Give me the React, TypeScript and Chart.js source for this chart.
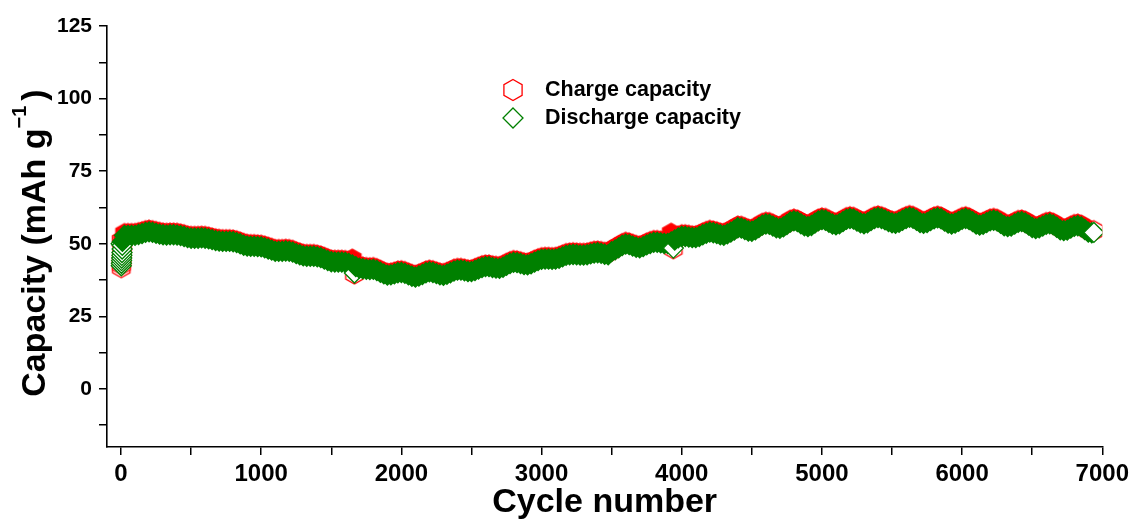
import React, { useEffect, useRef } from 'react';
import { Chart, registerables } from 'chart.js';

Chart.register(...registerables);

// Cycle numbers at which capacities were sampled
const cycleNumbers = [
  1, 2, 3, 4, 5, 6, 7, 8, 9, 10,
  25, 50, 75, 100, 125, 150, 175,
  200, 225, 250, 275, 300, 325, 350, 375,
  400, 425, 450, 475, 500, 525, 550, 575,
  600, 625, 650, 675, 700, 725, 750, 775,
  800, 825, 850, 875, 900, 925, 950, 975,
  1000, 1025, 1050, 1075, 1100, 1125, 1150, 1175,
  1200, 1225, 1250, 1275, 1300, 1325, 1350, 1375,
  1400, 1425, 1450, 1475, 1500, 1525, 1550, 1575,
  1600, 1625, 1650, 1665, 1675, 1700, 1725, 1750, 1775,
  1800, 1825, 1850, 1875, 1900, 1925, 1950, 1975,
  2000, 2025, 2050, 2075, 2100, 2125, 2150, 2175,
  2200, 2225, 2250, 2275, 2300, 2325, 2350, 2375,
  2400, 2425, 2450, 2475, 2500, 2525, 2550, 2575,
  2600, 2625, 2650, 2675, 2700, 2725, 2750, 2775,
  2800, 2825, 2850, 2875, 2900, 2925, 2950, 2975,
  3000, 3025, 3050, 3075, 3100, 3125, 3150, 3175,
  3200, 3225, 3250, 3275, 3300, 3325, 3350, 3375,
  3400, 3425, 3450, 3475, 3500, 3525, 3550, 3575,
  3600, 3625, 3650, 3675, 3700, 3725, 3750, 3775,
  3800, 3825, 3850, 3875, 3900, 3925, 3940, 3950, 3975,
  4000, 4025, 4050, 4075, 4100, 4125, 4150, 4175,
  4200, 4225, 4250, 4275, 4300, 4325, 4350, 4375,
  4400, 4425, 4450, 4475, 4500, 4525, 4550, 4575,
  4600, 4625, 4650, 4675, 4700, 4725, 4750, 4775,
  4800, 4825, 4850, 4875, 4900, 4925, 4950, 4975,
  5000, 5025, 5050, 5075, 5100, 5125, 5150, 5175,
  5200, 5225, 5250, 5275, 5300, 5325, 5350, 5375,
  5400, 5425, 5450, 5475, 5500, 5525, 5550, 5575,
  5600, 5625, 5650, 5675, 5700, 5725, 5750, 5775,
  5800, 5825, 5850, 5875, 5900, 5925, 5950, 5975,
  6000, 6025, 6050, 6075, 6100, 6125, 6150, 6175,
  6200, 6225, 6250, 6275, 6300, 6325, 6350, 6375,
  6400, 6425, 6450, 6475, 6500, 6525, 6550, 6575,
  6600, 6625, 6650, 6675, 6700, 6725, 6750, 6775,
  6800, 6825, 6850, 6875, 6900, 6925, 6940,
];

// Charge capacity (mAh g-1)
const chargeCapacity = [
  51.0, 41.8, 42.8, 43.8, 44.8, 45.8, 46.8, 48.0, 49.5, 51.0,
  53.5, 53.5, 53.5, 53.5, 53.8, 54.1, 54.5,
  54.7, 54.5, 54.2, 53.9, 53.7, 53.6, 53.7, 53.7,
  53.6, 53.4, 53.1, 52.7, 52.5, 52.5, 52.5, 52.6,
  52.5, 52.3, 52.0, 51.7, 51.5, 51.4, 51.4, 51.4,
  51.3, 51.0, 50.6, 50.1, 49.8, 49.7, 49.7, 49.6,
  49.5, 49.2, 48.8, 48.4, 48.0, 48.0, 48.0, 48.1,
  48.0, 47.7, 47.2, 46.8, 46.4, 46.3, 46.3, 46.3,
  46.1, 45.8, 45.3, 44.8, 44.4, 44.3, 44.3, 44.3,
  44.2, 43.8, 44.7, 39.6, 42.7, 42.2, 42.0, 41.8, 41.7,
  41.8, 41.4, 40.8, 40.2, 39.8, 39.9, 40.2, 40.6,
  40.7, 40.4, 39.9, 39.4, 39.1, 39.5, 40.0, 40.6,
  40.9, 40.7, 40.3, 39.9, 39.7, 40.1, 40.6, 41.2,
  41.5, 41.5, 41.3, 41.0, 41.0, 41.4, 41.9, 42.4,
  42.7, 42.7, 42.4, 42.2, 42.1, 42.5, 43.2, 43.8,
  44.2, 44.1, 43.8, 43.4, 43.3, 43.7, 44.3, 44.8,
  45.2, 45.3, 45.3, 45.2, 45.3, 45.6, 46.1, 46.6,
  46.8, 46.9, 46.8, 46.7, 46.7, 46.8, 47.1, 47.4,
  47.5, 47.3, 47.0, 46.8, 47.9, 48.5, 49.2, 50.0,
  50.5, 50.3, 49.8, 49.4, 49.2, 49.6, 50.2, 50.7,
  51.1, 51.1, 50.9, 50.7, 50.7, 53.6, 48.3, 51.9, 52.6,
  53.1, 53.1, 52.9, 52.7, 52.7, 53.1, 53.7, 54.2,
  54.6, 54.4, 54.1, 53.7, 53.5, 54.0, 54.6, 55.3,
  56.1, 56.0, 55.5, 55.0, 54.9, 55.4, 56.2, 57.0,
  57.4, 57.3, 56.7, 56.1, 55.9, 56.4, 57.2, 58.1,
  58.5, 58.2, 57.5, 56.8, 56.5, 56.9, 57.7, 58.5,
  58.9, 58.7, 58.0, 57.4, 57.1, 57.5, 58.2, 59.0,
  59.3, 59.1, 58.4, 57.8, 57.5, 57.8, 58.6, 59.3,
  59.6, 59.3, 58.8, 58.2, 57.8, 57.6, 58.0, 58.7,
  59.3, 59.7, 59.4, 58.7, 57.9, 57.6, 57.9, 58.6,
  59.2, 59.5, 59.2, 58.4, 57.7, 57.4, 57.7, 58.3,
  59.0, 59.3, 58.9, 58.2, 57.4, 57.0, 57.3, 57.9,
  58.5, 58.7, 58.4, 57.6, 56.8, 56.5, 56.7, 57.4,
  58.0, 58.2, 57.8, 57.0, 56.2, 55.8, 56.1, 56.7,
  57.3, 57.5, 57.1, 56.3, 55.4, 55.1, 55.3, 56.0,
  56.6, 56.8, 56.4, 55.5, 54.6, 54.4, 54.5,
];

// Discharge capacity (mAh g-1)
const dischargeCapacity = [
  50.0, 42.4, 43.3, 44.2, 45.1, 46.0, 47.0, 48.2, 49.5, 50.8,
  52.9, 52.9, 52.9, 52.9, 53.2, 53.5, 53.9,
  54.1, 53.9, 53.6, 53.3, 53.1, 53.0, 53.1, 53.1,
  53.0, 52.8, 52.5, 52.1, 51.9, 51.9, 51.9, 52.0,
  51.9, 51.7, 51.4, 51.1, 50.9, 50.8, 50.8, 50.8,
  50.7, 50.4, 50.0, 49.5, 49.2, 49.1, 49.1, 49.0,
  48.9, 48.6, 48.2, 47.8, 47.4, 47.4, 47.4, 47.5,
  47.4, 47.1, 46.6, 46.2, 45.8, 45.7, 45.7, 45.7,
  45.5, 45.2, 44.7, 44.2, 43.8, 43.7, 43.7, 43.7,
  43.6, 43.2, 42.7, 39.9, 42.1, 41.6, 41.4, 41.2, 41.1,
  41.2, 40.8, 40.2, 39.6, 39.2, 39.3, 39.6, 40.0,
  40.1, 39.8, 39.3, 38.8, 38.5, 38.9, 39.4, 40.0,
  40.3, 40.1, 39.7, 39.3, 39.1, 39.5, 40.0, 40.6,
  40.9, 40.9, 40.7, 40.4, 40.4, 40.8, 41.3, 41.8,
  42.1, 42.1, 41.8, 41.6, 41.5, 41.9, 42.6, 43.2,
  43.6, 43.5, 43.2, 42.8, 42.7, 43.1, 43.7, 44.2,
  44.6, 44.7, 44.7, 44.6, 44.7, 45.0, 45.5, 46.0,
  46.2, 46.3, 46.2, 46.1, 46.1, 46.2, 46.5, 46.8,
  46.9, 46.7, 46.4, 46.2, 47.3, 47.9, 48.6, 49.4,
  49.9, 49.7, 49.2, 48.8, 48.6, 49.0, 49.6, 50.1,
  50.5, 50.5, 50.3, 50.1, 50.1, 50.6, 48.5, 51.3, 52.0,
  52.5, 52.5, 52.3, 52.1, 52.1, 52.5, 53.1, 53.6,
  54.0, 53.8, 53.5, 53.1, 52.9, 53.4, 54.0, 54.7,
  55.5, 55.4, 54.9, 54.4, 54.3, 54.8, 55.6, 56.4,
  56.8, 56.7, 56.1, 55.5, 55.3, 55.8, 56.6, 57.5,
  57.9, 57.6, 56.9, 56.2, 55.9, 56.3, 57.1, 57.9,
  58.3, 58.1, 57.4, 56.8, 56.5, 56.9, 57.6, 58.4,
  58.7, 58.5, 57.8, 57.2, 56.9, 57.2, 58.0, 58.7,
  59.0, 58.7, 58.2, 57.6, 57.2, 57.0, 57.4, 58.1,
  58.7, 59.1, 58.8, 58.1, 57.3, 57.0, 57.3, 58.0,
  58.6, 58.9, 58.6, 57.8, 57.1, 56.8, 57.1, 57.7,
  58.4, 58.7, 58.3, 57.6, 56.8, 56.4, 56.7, 57.3,
  57.9, 58.1, 57.8, 57.0, 56.2, 55.9, 56.1, 56.8,
  57.4, 57.6, 57.2, 56.4, 55.6, 55.2, 55.5, 56.1,
  56.7, 56.9, 56.5, 55.7, 54.8, 54.5, 54.7, 55.4,
  56.0, 56.2, 55.8, 54.9, 54.0, 53.8, 53.9,
];

// Axis ticks
const xTickValues = [0, 500, 1000, 1500, 2000, 2500, 3000, 3500, 4000, 4500, 5000, 5500, 6000, 6500, 7000];
const xTickLabels = ['0', '1000', '2000', '3000', '4000', '5000', '6000', '7000'];
const yTickValues = [-12.5, 0, 12.5, 25, 37.5, 50, 62.5, 75, 87.5, 100, 112.5, 125];
const yTickLabels = ['0', '25', '50', '75', '100', '125'];

const seriesNames = ['Charge capacity', 'Discharge capacity'];

const RED = '#ff0000';
const GREEN = '#008000';
const FONT = "'Liberation Sans', Arial, Helvetica, sans-serif";
const HEX_R = 10;
const LEGEND_HEX_R = 10.5;

function hexagonPath(ctx: CanvasRenderingContext2D, cx: number, cy: number, r: number) {
  ctx.beginPath();
  for (let k = 0; k < 6; k++) {
    const a = -Math.PI / 2 + (k * Math.PI) / 3;
    const px = cx + r * Math.cos(a);
    const py = cy + r * Math.sin(a);
    if (k === 0) ctx.moveTo(px, py);
    else ctx.lineTo(px, py);
  }
  ctx.closePath();
}

function diamondPath(ctx: CanvasRenderingContext2D, cx: number, cy: number, r: number) {
  ctx.beginPath();
  ctx.moveTo(cx, cy - r);
  ctx.lineTo(cx + r, cy);
  ctx.lineTo(cx, cy + r);
  ctx.lineTo(cx - r, cy);
  ctx.closePath();
}

function hexagonImage(fill: string) {
  const c = document.createElement('canvas');
  c.width = 26;
  c.height = 26;
  const g = c.getContext('2d')!;
  hexagonPath(g, 13, 13, HEX_R);
  g.fillStyle = fill;
  g.fill();
  g.lineWidth = 1.3;
  g.strokeStyle = RED;
  g.stroke();
  return c;
}

// A marker stays open (white inside) when it is the last one, belongs to the
// densely sampled first cycles, or dips clearly below both neighbours.
function isOpen(values: number[], i: number) {
  const n = values.length;
  if (i === n - 1) return true;
  if (cycleNumbers[i + 1] - cycleNumbers[i] < 5) return true;
  if (i > 0 && values[i] < values[i - 1] - 1.5 && values[i] < values[i + 1] - 1.5) return true;
  return false;
}

const decorations = {
  id: 'decorations',
  afterDraw(chart: any) {
    const { ctx, chartArea: a } = chart;
    ctx.save();
    ctx.fillStyle = '#000';

    // x-axis title
    ctx.font = `bold 34px ${FONT}`;
    ctx.textAlign = 'center';
    ctx.textBaseline = 'alphabetic';
    ctx.fillText('Cycle number', (a.left + a.right) / 2, 512);

    // y-axis title with superscript
    ctx.save();
    ctx.translate(45, 243);
    ctx.rotate(-Math.PI / 2);
    ctx.textAlign = 'left';
    const big = `bold 34px ${FONT}`;
    const small = `bold 20px ${FONT}`;
    const main = 'Capacity (mAh g';
    const sup = '\u22121';
    const close = ')';
    ctx.font = big;
    const w1 = ctx.measureText(main).width;
    const w3 = ctx.measureText(close).width;
    ctx.font = small;
    const w2 = ctx.measureText(sup).width;
    const gap = 5;
    let x = -(w1 + w2 + gap + w3) / 2;
    ctx.font = big;
    ctx.fillText(main, x, 0);
    x += w1;
    ctx.font = small;
    ctx.fillText(sup, x, -19);
    x += w2 + gap;
    ctx.font = big;
    ctx.fillText(close, x, 0);
    ctx.restore();

    // legend
    const mx = a.left + 406;
    const rows = [a.top + 64, a.top + 92];
    ctx.lineWidth = 1.3;
    ctx.strokeStyle = RED;
    hexagonPath(ctx, mx, rows[0], LEGEND_HEX_R);
    ctx.stroke();
    ctx.strokeStyle = GREEN;
    diamondPath(ctx, mx, rows[1], 10);
    ctx.stroke();
    ctx.font = `bold 21.5px ${FONT}`;
    ctx.textAlign = 'left';
    ctx.textBaseline = 'middle';
    ctx.fillText(seriesNames[0], mx + 32, rows[0]);
    ctx.fillText(seriesNames[1], mx + 32, rows[1]);
    ctx.restore();
  },
};

export default function App() {
  const canvasRef = useRef<HTMLCanvasElement | null>(null);

  useEffect(() => {
    const canvas = canvasRef.current;
    if (!canvas) return;

    const hexFilled = hexagonImage(RED);
    const hexOpen = hexagonImage('#ffffff');

    const toPoints = (vals: number[]) => cycleNumbers.map((c, i) => ({ x: c, y: vals[i] }));

    const chart = new Chart(canvas, {
      type: 'scatter',
      data: {
        datasets: [
          {
            label: seriesNames[0],
            data: toPoints(chargeCapacity),
            order: 1,
            pointStyle: (ctx: any) => (isOpen(chargeCapacity, ctx.dataIndex) ? hexOpen : hexFilled),
            pointRadius: HEX_R,
          },
          {
            label: seriesNames[1],
            data: toPoints(dischargeCapacity),
            order: 0,
            pointStyle: 'rectRot',
            pointRadius: 10,
            pointBorderWidth: 1.3,
            pointBorderColor: GREEN,
            pointBackgroundColor: (ctx: any) => (isOpen(dischargeCapacity, ctx.dataIndex) ? '#ffffff' : GREEN),
          },
        ],
      },
      options: {
        responsive: false,
        animation: false,
        devicePixelRatio: 1,
        events: [],
        layout: { padding: { top: 26, right: 29, left: 0, bottom: 0 } },
        plugins: {
          legend: { display: false },
          tooltip: { enabled: false },
        },
        scales: {
          x: {
            type: 'linear',
            min: -100,
            max: 7000,
            afterFit: (s: any) => {
              s.height = 73;
            },
            afterBuildTicks: (s: any) => {
              s.ticks = xTickValues.map((v) => ({ value: v }));
            },
            border: { display: true, color: '#000', width: 1.6 },
            grid: { display: true, drawOnChartArea: false, drawTicks: true, tickLength: 8, color: '#000', lineWidth: 1.5 },
            ticks: {
              autoSkip: false,
              maxRotation: 0,
              padding: 5,
              color: '#000',
              font: { family: FONT, size: 24, weight: 'bold' },
              callback: (v: any) => (xTickLabels.includes(String(v)) ? String(v) : ''),
            },
          },
          y: {
            type: 'linear',
            min: -20,
            max: 125,
            afterFit: (s: any) => {
              s.width = 107;
            },
            afterBuildTicks: (s: any) => {
              s.ticks = yTickValues.map((v) => ({ value: v }));
            },
            border: { display: true, color: '#000', width: 1.6 },
            grid: { display: true, drawOnChartArea: false, drawTicks: true, tickLength: 8, color: '#000', lineWidth: 1.5 },
            ticks: {
              autoSkip: false,
              padding: 7,
              color: '#000',
              font: { family: FONT, size: 21, weight: 'bold' },
              callback: (v: any) => (yTickLabels.includes(String(v)) ? String(v) : ''),
            },
          },
        },
      },
      plugins: [decorations],
    } as any);

    return () => chart.destroy();
  }, []);

  return (
    <div style={{ position: 'fixed', left: 0, top: 0, width: 1134, height: 520, background: '#ffffff' }}>
      <canvas ref={canvasRef} width={1134} height={520} style={{ display: 'block' }} />
    </div>
  );
}
